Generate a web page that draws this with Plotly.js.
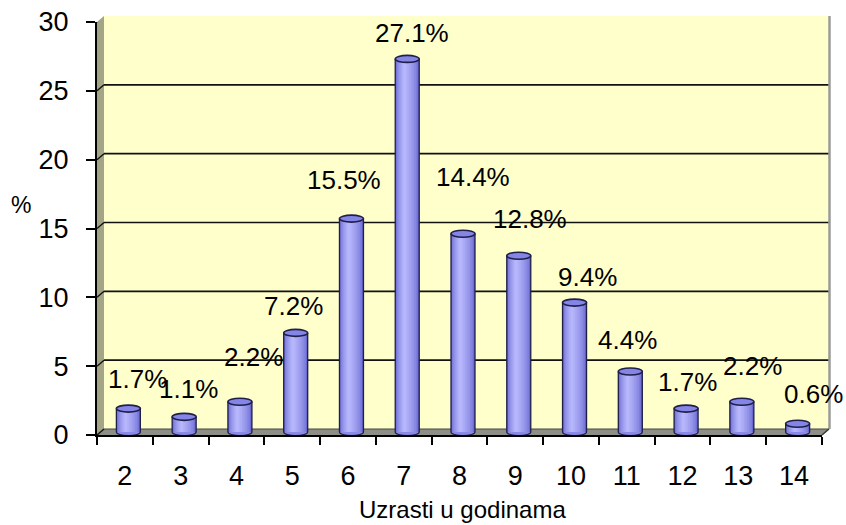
<!DOCTYPE html>
<html>
<head>
<meta charset="utf-8">
<script src="https://cdn.plot.ly/plotly-3.0.1.min.js"></script>
<style>
  html, body { margin: 0; padding: 0; background: #ffffff; }
  #chart { width: 846px; height: 525px; }
</style>
</head>
<body>
<div id="chart"></div>
<script>
// Age groups (years) and share of children in each group (%)
const ages = ['2', '3', '4', '5', '6', '7', '8', '9', '10', '11', '12', '13', '14'];
const shares = [1.7, 1.1, 2.2, 7.2, 15.5, 27.1, 14.4, 12.8, 9.4, 4.4, 1.7, 2.2, 0.6];
const yTicks = [0, 5, 10, 15, 20, 25, 30];
const xTitle = 'Uzrasti u godinama';
const yTitle = '%';

// value label placement (pixel nudges above each cylinder top)
const labelDx = [13, 8, 17, 1, -4, 8, 13, 15, 16, 1, 5, 14, 19];
const labelDy = [33, 31, 48, 30, 42, 29, 60, 40, 29, 34, 30, 39, 33];

// ---- page geometry ----
const W = 846, H = 525;
const M = { l: 97, r: 24, t: 22, b: 90 };
const PW = W - M.l - M.r;
const PH = H - M.t - M.b;
const DX = 7, DY = 6;                 // depth of the 3D box
const catPx = PW / ages.length;
const valPx = PH / (yTicks[yTicks.length - 1] - yTicks[0]);
const px = x => (x - M.l) / PW;        // page pixel -> paper fraction
const py = y => (H - M.b - y) / PH;
const FL = M.l, FR = W - M.r, FT = M.t, FB = H - M.b;   // front frame

const FONT = 'Liberation Sans, Arial, sans-serif';

// ---- 3D box: back wall, side wall, floor, grid ----
const shapes = [];
shapes.push({ type: 'rect', xref: 'paper', yref: 'paper', layer: 'below',
  x0: px(FL + DX), x1: px(FR + DX), y0: py(FB - DY), y1: py(FT - DY),
  fillcolor: '#FFFFCC', line: { width: 0 } });
shapes.push({ type: 'path', xref: 'paper', yref: 'paper', layer: 'below',
  path: `M ${px(FL)},${py(FT)} L ${px(FL + DX)},${py(FT - DY)} L ${px(FL + DX)},${py(FB - DY)} L ${px(FL)},${py(FB)} Z`,
  fillcolor: '#A4A486', line: { width: 0 } });
shapes.push({ type: 'path', xref: 'paper', yref: 'paper', layer: 'below',
  path: `M ${px(FL)},${py(FB)} L ${px(FL + DX)},${py(FB - DY)} L ${px(FR + DX)},${py(FB - DY)} L ${px(FR)},${py(FB)} Z`,
  fillcolor: '#8E8E88', line: { width: 0 } });
yTicks.forEach((v, i) => {
  const top = i === yTicks.length - 1;
  const lw = top ? 2.5 : (i === 0 ? 1 : 1.6);
  const col = top ? '#2a2a2a' : (i === 0 ? '#444444' : '#111111');
  // line across the back wall
  shapes.push({ type: 'line', layer: 'below', xref: 'paper', yref: 'y',
    ysizemode: 'pixel', yanchor: v, y0: DY, y1: DY,
    x0: px(FL + DX), x1: px(FR + DX), line: { color: col, width: lw } });
  // slanted piece on the side wall
  shapes.push({ type: 'line', layer: 'below', xref: 'paper', yref: 'y',
    ysizemode: 'pixel', yanchor: v, y0: 0, y1: DY,
    x0: px(FL), x1: px(FL + DX), line: { color: '#111111', width: 1.4 } });
});
// right edge of the back wall and floor corner
shapes.push({ type: 'line', layer: 'below', xref: 'paper', yref: 'paper',
  x0: px(FR + DX + 0.5), x1: px(FR + DX + 0.5), y0: py(FT - DY), y1: py(FB - DY),
  line: { color: '#9a9a9a', width: 2.5 } });
shapes.push({ type: 'line', layer: 'below', xref: 'paper', yref: 'paper',
  x0: px(FR), x1: px(FR + DX), y0: py(FB), y1: py(FB - DY),
  line: { color: '#333333', width: 1.4 } });

// ---- cylinders ----
const barPx = 24;
const half = barPx / 2;
const hl = -half + barPx * 0.38;           // highlight position across the cylinder
const edgeRGB = [102, 102, 208], hiRGB = [188, 188, 255];
const mix = t => 'rgb(' + edgeRGB.map((c, j) => Math.round(c + (hiRGB[j] - c) * t)).join(',') + ')';
const N = 9;
const traces = [];
// invisible companion series so the front axes carry the categories
traces.push({ type: 'scatter', x: ages, y: shares, mode: 'markers',
  marker: { opacity: 0 }, hoverinfo: 'skip', showlegend: false, xaxis: 'x', yaxis: 'y' });
for (let k = 0; k < N; k++) {
  const t = k / N;
  const left = -half + (hl + half) * t;
  const right = half - (half - hl) * t;
  traces.push({
    type: 'bar', x: ages, y: shares, xaxis: 'x2', yaxis: 'y2',
    offset: left / catPx, width: (right - left) / catPx,
    marker: { color: mix(Math.pow(t, 0.6)), line: { width: 0 } },
    hoverinfo: k === 0 ? 'x+y' : 'skip', showlegend: false
  });
}

// on category axes, shapes and annotations are positioned by category index
const outline = '#1f1f48';
const kap = 0.5523, eh = 3.5;
shares.forEach((v, i) => {
  // lower rim fill, sits under the body
  shapes.push({ type: 'circle', layer: 'below', xref: 'x2', yref: 'y2',
    xsizemode: 'pixel', ysizemode: 'pixel', xanchor: i, yanchor: 0,
    x0: -half, x1: half, y0: -eh, y1: eh, fillcolor: '#8A8AE6', line: { width: 0 } });
  // sides
  [-half, half].forEach(s => shapes.push({ type: 'line', layer: 'above', xref: 'x2', yref: 'y2',
    xsizemode: 'pixel', xanchor: i, x0: s, x1: s, y0: 0, y1: v,
    line: { color: outline, width: 1.3 } }));
  // bottom curve
  shapes.push({ type: 'path', layer: 'above', xref: 'x2', yref: 'y2',
    xsizemode: 'pixel', ysizemode: 'pixel', xanchor: i, yanchor: 0,
    path: `M ${-half},0 C ${-half},${-kap * eh} ${-kap * half},${-eh} 0,${-eh} C ${kap * half},${-eh} ${half},${-kap * eh} ${half},0`,
    line: { color: outline, width: 1.2 } });
  // top face
  shapes.push({ type: 'circle', layer: 'above', xref: 'x2', yref: 'y2',
    xsizemode: 'pixel', ysizemode: 'pixel', xanchor: i, yanchor: v,
    x0: -half, x1: half, y0: -eh, y1: eh,
    fillcolor: '#8585E8', line: { color: outline, width: 1.6 } });
});

// ---- labels ----
const annotations = shares.map((v, i) => ({
  xref: 'x', yref: 'y', x: i, y: v, text: v.toFixed(1) + '%',
  showarrow: false, xanchor: 'center', yanchor: 'middle',
  xshift: labelDx[i], yshift: labelDy[i],
  font: { family: FONT, size: 26, color: '#000000' }
}));
annotations.push({ xref: 'paper', yref: 'paper', x: px(21), y: py(205), text: yTitle,
  showarrow: false, xanchor: 'center', yanchor: 'middle',
  font: { family: FONT, size: 23, color: '#000000' } });
annotations.push({ xref: 'paper', yref: 'paper', x: px(462), y: py(510), text: xTitle,
  showarrow: false, xanchor: 'center', yanchor: 'middle',
  font: { family: FONT, size: 24, color: '#000000' } });

const shiftX = (DX / 2) / catPx, shiftY = (DY / 2) / valPx;
const layout = {
  width: W, height: H,
  margin: M,
  paper_bgcolor: '#ffffff',
  plot_bgcolor: 'rgba(0,0,0,0)',
  barmode: 'overlay',
  showlegend: false,
  font: { family: FONT, color: '#000000' },
  xaxis: {
    type: 'category', categoryorder: 'array', categoryarray: ages,
    range: [-0.5, ages.length - 0.5], fixedrange: true,
    showgrid: false, zeroline: false,
    showline: true, linecolor: '#000000', linewidth: 2,
    ticks: 'outside', tickson: 'boundaries', ticklen: 8, tickwidth: 2, tickcolor: '#000000',
    ticklabelstandoff: 16,
    tickfont: { family: FONT, size: 27, color: '#000000' }
  },
  yaxis: {
    range: [yTicks[0], yTicks[yTicks.length - 1]], fixedrange: true,
    tickmode: 'array', tickvals: yTicks, ticktext: yTicks.map(String),
    showgrid: false, zeroline: false,
    showline: true, linecolor: '#000000', linewidth: 2,
    ticks: 'outside', ticklen: 9, tickwidth: 2, tickcolor: '#000000',
    ticklabelstandoff: 12,
    tickfont: { family: FONT, size: 27, color: '#000000' }
  },
  xaxis2: {
    overlaying: 'x', anchor: 'y2', type: 'category', categoryorder: 'array', categoryarray: ages,
    range: [-0.5 - shiftX, ages.length - 0.5 - shiftX], visible: false, fixedrange: true
  },
  yaxis2: {
    overlaying: 'y', anchor: 'x2',
    range: [yTicks[0] - shiftY, yTicks[yTicks.length - 1] - shiftY], visible: false, fixedrange: true
  },
  shapes: shapes,
  annotations: annotations
};

Plotly.newPlot('chart', traces, layout, { displayModeBar: false, staticPlot: true });
</script>
</body>
</html>
